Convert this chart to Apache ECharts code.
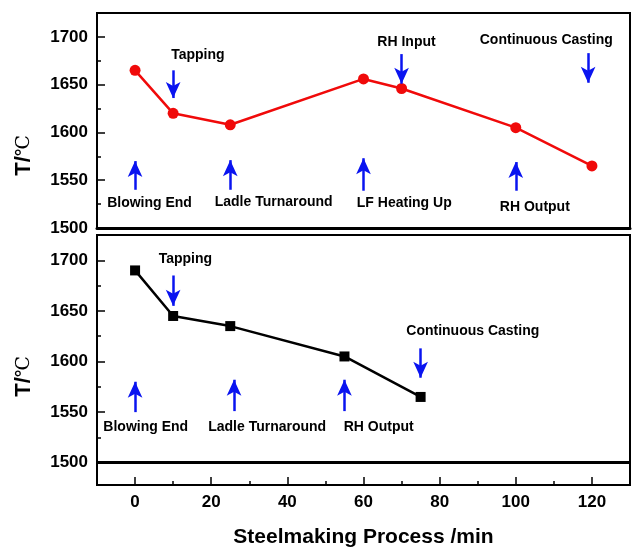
<!DOCTYPE html>
<html>
<head>
<meta charset="utf-8">
<script src="https://cdn.jsdelivr.net/npm/echarts@6/dist/echarts.min.js"></script>
<style>
  html, body { margin: 0; padding: 0; background: #fff; }
  #chart { width: 633px; height: 551px; }
</style>
</head>
<body>
<div id="chart"></div>
<script>
// Process time (min) and measured temperature for the two routes
const routeA_time = [0, 10, 25, 60, 70, 100, 120];
const routeA_temp = [1665, 1620, 1608, 1656, 1646, 1605, 1565];
const routeB_time = [0, 10, 25, 55, 75];
const routeB_temp = [1690, 1645, 1635, 1605, 1565];

// Axis ticks
const xMajorTicks = [0, 20, 40, 60, 80, 100, 120];
const xMinorTicks = [10, 30, 50, 70, 90, 110];
const yMajorTicks = [1500, 1550, 1600, 1650, 1700];
const yMinorTicks = [1525, 1575, 1625, 1675];

// Process-stage labels: [text, x, y]
const routeA_stageLabels = [
  ['Tapping', 16.5, 1681],
  ['Blowing End', 3.8, 1526],
  ['Ladle Turnaround', 36.4, 1527],
  ['LF Heating Up', 70.7, 1526],
  ['RH Input', 71.3, 1695],
  ['Continuous Casting', 108, 1697],
  ['RH Output', 105, 1522]
];
const routeB_stageLabels = [
  ['Tapping', 13.2, 1701],
  ['Blowing End', 2.8, 1535],
  ['Ladle Turnaround', 34.7, 1535],
  ['RH Output', 64, 1535],
  ['Continuous Casting', 88.7, 1630]
];

// Stage arrows: [x, tail y, head y]
const routeA_arrows = [
  [10, 1665, 1636],
  [0, 1540, 1570],
  [25, 1540, 1571],
  [60, 1539, 1573],
  [70, 1682, 1651],
  [119, 1683, 1652],
  [100, 1539, 1569]
];
const routeB_arrows = [
  [10, 1685, 1655],
  [0, 1550, 1580],
  [26, 1551, 1582],
  [55, 1551, 1582],
  [75, 1613, 1584]
];

const FONT = '"Liberation Sans", Arial, sans-serif';
const BLUE = '#0a14f0';

function zip(xs, ys) { return xs.map((x, i) => [x, ys[i]]); }

function arrowLines(list) {
  return list.map(a => [
    { coord: [a[0], a[1]] },
    { coord: [a[0], a[2]] }
  ]);
}

function labelSeries(list, arrows, axisIdx) {
  return {
    type: 'scatter',
    xAxisIndex: axisIdx, yAxisIndex: axisIdx,
    symbolSize: 0,
    silent: true,
    data: list.map(l => ({ value: [l[1], l[2]], name: l[0] })),
    label: {
      show: true, position: 'inside', formatter: p => p.name,
      color: '#000', textBorderWidth: 0, opacity: 1,
      fontFamily: FONT, fontWeight: 'bold', fontSize: 14
    },
    markLine: {
      silent: true,
      symbol: ['none', 'arrow'],
      symbolSize: [11, 16],
      label: { show: false },
      lineStyle: { color: BLUE, width: 2.5, type: 'solid', opacity: 1 },
      data: arrowLines(arrows)
    }
  };
}

function xAxes(idx, major) {
  const base = {
    gridIndex: idx, type: 'value', min: -10, max: 130, position: 'bottom', offset: 0,
    splitLine: { show: false }
  };
  return [
    Object.assign({}, base, {
      axisLine: { show: true, onZero: false, lineStyle: { color: '#000', width: idx === 0 ? 3 : 2 } },
      axisTick: major ? { show: true, inside: true, length: 8, customValues: xMajorTicks,
                          lineStyle: { color: '#000', width: 1.5 } } : { show: false },
      axisLabel: major ? { show: true, customValues: xMajorTicks, margin: 9, formatter: v => String(v),
                           color: '#000', fontFamily: FONT, fontWeight: 'bold', fontSize: 17 } : { show: false },
      name: major ? 'Steelmaking Process /min' : '',
      nameLocation: 'middle', nameGap: 42,
      nameTextStyle: { color: '#000', fontFamily: FONT, fontWeight: 'bold', fontSize: 21 }
    }),
    Object.assign({}, base, {
      axisLine: { show: false, onZero: false },
      axisTick: major ? { show: true, inside: true, length: 4, customValues: xMinorTicks,
                          lineStyle: { color: '#000', width: 1.5 } } : { show: false },
      axisLabel: { show: false }
    })
  ];
}

function yAxes(idx, min, max) {
  const base = {
    gridIndex: idx, type: 'value', min: min, max: max, position: 'left', offset: 0,
    splitLine: { show: false }
  };
  return [
    Object.assign({}, base, {
      axisLine: { show: true, onZero: false, lineStyle: { color: '#000', width: 2 } },
      axisTick: { show: true, inside: true, length: 8, customValues: yMajorTicks,
                  lineStyle: { color: '#000', width: 1.5 } },
      axisLabel: { show: true, customValues: yMajorTicks, margin: 9, formatter: v => String(v),
                   color: '#000', fontFamily: FONT, fontWeight: 'bold', fontSize: 17 }
    }),
    Object.assign({}, base, {
      axisLine: { show: false, onZero: false },
      axisTick: { show: true, inside: true, length: 4, customValues: yMinorTicks,
                  lineStyle: { color: '#000', width: 1.5 } },
      axisLabel: { show: false }
    })
  ];
}

const chart = echarts.init(document.getElementById('chart'), null, { renderer: 'canvas' });

const xs0 = xAxes(0, false), xs1 = xAxes(1, true);
const ys0 = yAxes(0, 1500, 1725), ys1 = yAxes(1, 1478, 1725);

const yTitle = (top) => ({
  type: 'text',
  left: 13, top: top,
  rotation: Math.PI / 2,
  style: {
    text: '{a|T/}{b|℃}',
    rich: {
      a: { fontFamily: FONT, fontWeight: 'bold', fontSize: 22, fill: '#000' },
      b: { fontFamily: '"DejaVu Serif", serif', fontWeight: 'normal', fontSize: 19, fill: '#000' }
    }
  }
});

chart.setOption({
  animation: false,
  backgroundColor: '#fff',
  grid: [
    { left: 97, right: 3, top: 13, height: 215, show: true, borderColor: '#000', borderWidth: 2 },
    { left: 97, right: 3, top: 235, height: 250, show: true, borderColor: '#000', borderWidth: 2 }
  ],
  xAxis: [xs0[0], xs0[1], xs1[0], xs1[1]],
  yAxis: [ys0[0], ys0[1], ys1[0], ys1[1]],
  graphic: [yTitle(135), yTitle(356)],
  series: [
    // empty series bind the minor-tick axes to their grids
    { type: 'line', xAxisIndex: 1, yAxisIndex: 1, data: [] },
    { type: 'line', xAxisIndex: 3, yAxisIndex: 3, data: [] },
    {
      type: 'line', xAxisIndex: 0, yAxisIndex: 0,
      data: zip(routeA_time, routeA_temp),
      symbol: 'circle', symbolSize: 11,
      lineStyle: { color: '#f00a0a', width: 2.5 },
      itemStyle: { color: '#f00a0a' }
    },
    {
      type: 'line', xAxisIndex: 2, yAxisIndex: 2,
      data: zip(routeB_time, routeB_temp),
      symbol: 'rect', symbolSize: 10,
      lineStyle: { color: '#000', width: 2.5 },
      itemStyle: { color: '#000' },
      markLine: {
        silent: true, symbol: 'none',
        label: { show: false },
        lineStyle: { color: '#000', width: 3, type: 'solid' },
        data: [{ yAxis: 1500 }]
      }
    },
    labelSeries(routeA_stageLabels, routeA_arrows, 0),
    labelSeries(routeB_stageLabels, routeB_arrows, 2)
  ]
});
</script>
</body>
</html>
